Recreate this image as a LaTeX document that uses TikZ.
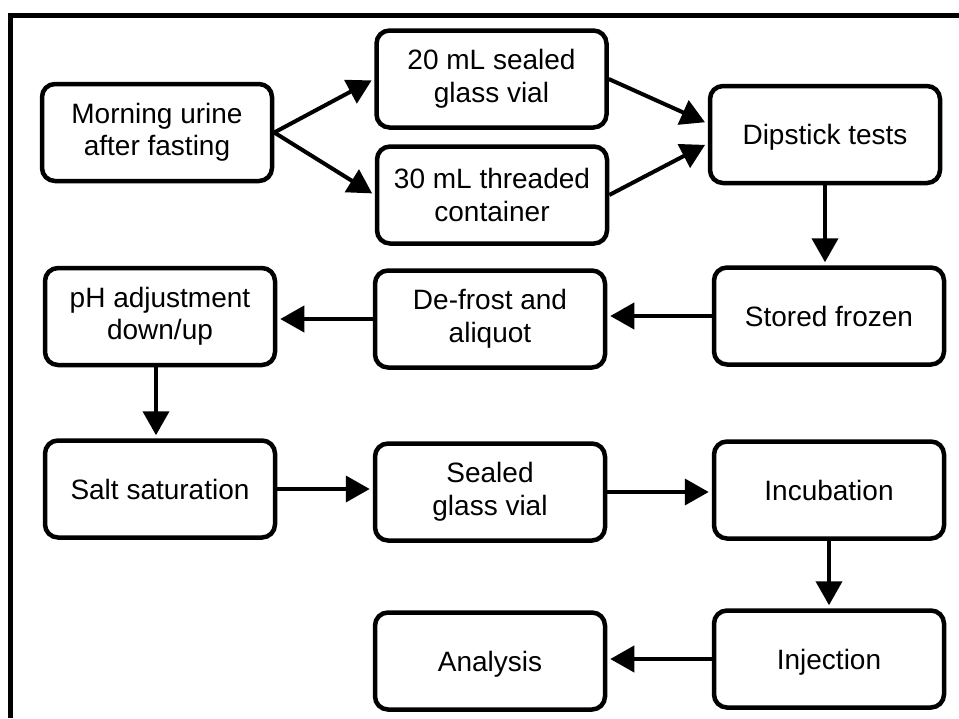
\documentclass[tikz,border=0pt]{standalone}
\usepackage{fontspec}
\setmainfont{Liberation Sans}
\usetikzlibrary{arrows.meta}
\begin{document}
\begin{tikzpicture}[x=1pt,y=-1pt,
  stepbox/.style={draw, line width=4.5pt, rounded corners=13pt,
    minimum width=230pt, minimum height=97pt, inner sep=0pt,
    align=center, font=\fontsize{28}{32.5}\selectfont},
  oneline/.style={text height=23pt, text depth=3pt},
  flow/.style={line width=4pt, -{Triangle[length=24pt,width=26pt]},
    shorten >=3pt}]
\useasboundingbox (0,0) rectangle (959,718);

% frame: top and left rules
\draw[line width=5pt, line join=miter] (10.5,718) -- (10.5,15) -- (959,15);

% process steps
\node[stepbox] (urine)   at (157,132.5) {Morning urine\\after fasting};
\node[stepbox] (vial20)  at (491.5,79)  {20 mL sealed\\glass vial};
\node[stepbox] (cont30)  at (492,195)   {30 mL threaded\\container};
\node[stepbox,oneline] (dip)    at (825,134.5) {Dipstick tests};
\node[stepbox,oneline] (frozen) at (829,316)   {Stored frozen};
\node[stepbox] (defrost) at (490,319)   {De-frost and\\aliquot};
\node[stepbox] (ph)      at (160,316.5) {pH adjustment\\down/up};
\node[stepbox,oneline] (salt)   at (160,489)   {Salt saturation};
\node[stepbox] (sealed)  at (490,492)   {Sealed\\glass vial};
\node[stepbox,oneline] (incub)  at (829,490)   {Incubation};
\node[stepbox,oneline] (inj)    at (829,659)   {Injection};
\node[stepbox,oneline] (anal)   at (490,661)   {Analysis};

% connectors
\draw[flow] (urine.east) -- (vial20.west);
\draw[flow] (urine.east) -- (cont30.west);
\draw[flow] (vial20.east) -- ([yshift=11pt]dip.west);
\draw[flow] (cont30.east) -- ([yshift=-9pt]dip.west);
\draw[flow] (dip.south) -- (dip.south |- frozen.north);
\draw[flow] (frozen.west) -- (frozen.west -| defrost.east);
\draw[flow] (defrost.west) -- (defrost.west -| ph.east);
\draw[flow] ([xshift=-4pt]ph.south) -- ([xshift=-4pt]ph.south |- salt.north);
\draw[flow] (salt.east) -- (salt.east -| sealed.west);
\draw[flow] (sealed.east) -- (sealed.east -| incub.west);
\draw[flow] (incub.south) -- (inj.north);
\draw[flow] (inj.west) -- (inj.west -| anal.east);
\end{tikzpicture}
\end{document}
